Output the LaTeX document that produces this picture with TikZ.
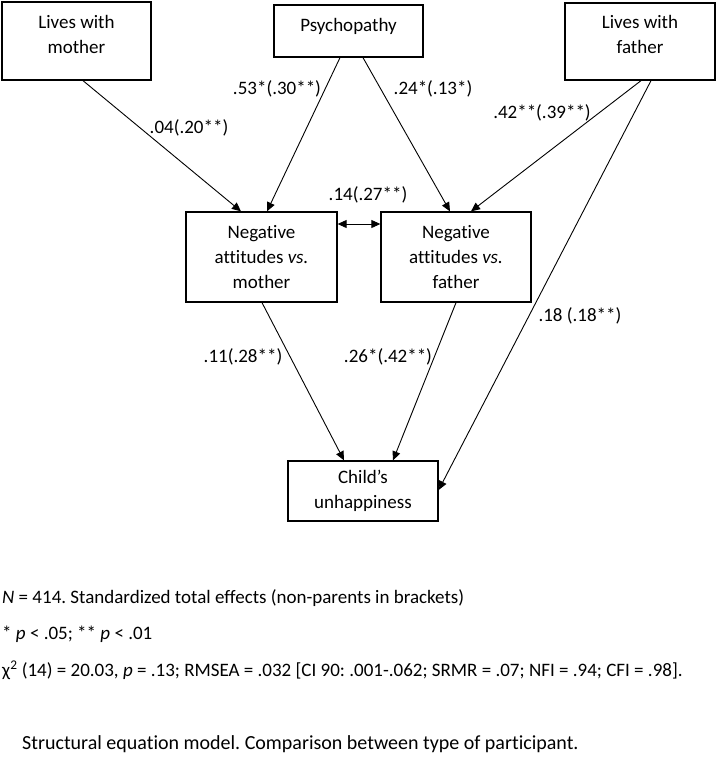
\documentclass[tikz,border=0pt]{standalone}
\usepackage{fontspec}
\setmainfont[Ligatures=NoCommon]{Carlito}
\frenchspacing
\usetikzlibrary{arrows.meta}
\tikzset{
  box/.style={draw, line width=1.3pt, inner sep=0pt},
  txt/.style={align=center, font=\fontsize{19}{25}\selectfont, inner sep=0pt},
  lbl/.style={font=\fontsize{19}{23}\selectfont, inner sep=0pt},
  arr/.style={line width=0.9pt, -{Triangle[length=9pt,width=8pt]}},
  darr/.style={line width=0.9pt, {Triangle[length=9pt,width=8pt]}-{Triangle[length=9pt,width=8pt]}},
  foot/.style={anchor=base west, font=\fontsize{19}{22}\selectfont, inner sep=0pt}
}
\begin{document}
\begin{tikzpicture}[x=1pt,y=-1pt]
\useasboundingbox[fill=white] (0,0) rectangle (717,761);
% boxes
\node[box, minimum width=149pt, minimum height=78pt] (lm) at (76.5,41) {};
\node[txt] (lmt) at (76.5,34.5) {Lives with\\mother};
\node[box, minimum width=149pt, minimum height=52pt] (ps) at (348.5,31) {};
\node[txt] (pst) at (348.5,26) {Psychopathy};
\node[box, minimum width=150pt, minimum height=77pt] (lf) at (640,41.5) {};
\node[txt] (lft) at (640,34.5) {Lives with\\father};
\node[box, minimum width=151pt, minimum height=90pt, txt] (nm) at (261.5,257) {Negative\\attitudes \textit{vs.}\\mother};
\node[box, minimum width=150pt, minimum height=90pt, txt] (nf) at (456,257) {Negative\\attitudes \textit{vs.}\\father};
\node[box, minimum width=150pt, minimum height=60pt, txt] (ch) at (363,491) {Child’s\\unhappiness};
% connectors
\draw[arr] ([xshift=6.5pt]lm.south) -- ([xshift=-20.5pt]nm.north);
\draw[arr] ([xshift=-8.5pt]ps.south) -- ([xshift=5.5pt]nm.north);
\draw[arr] ([xshift=14.5pt]ps.south) -- ([xshift=-6pt]nf.north);
\draw[arr] ([xshift=1pt]lf.south) -- ([xshift=15pt]nf.north);
\draw[arr] ([xshift=11pt]lf.south) -- ([yshift=1pt]ch.east);
\draw[arr] ([xshift=0.5pt]nm.south) -- ([xshift=-19pt]ch.north);
\draw[arr] (nf.south) -- ([xshift=30pt]ch.north);
\draw[darr] ([yshift=33pt]nm.east) -- ([yshift=33pt]nf.west);
% labels
\node[lbl] (l1) at (189,128) {.04(.20**)};
\node[lbl] (l2) at (277,89) {.53*(.30**)};
\node[lbl] (l3) at (433,89) {.24*(.13*)};
\node[lbl] (l4) at (542,113) {.42**(.39**)};
\node[lbl] (l5) at (368,195) {.14(.27**)};
\node[lbl] (l6) at (243,357) {.11(.28**)};
\node[lbl] (l7) at (388,357) {.26*(.42**)};
\node[lbl] (l8) at (580,316) {.18 (.18**)};
% footnotes
\node[foot] (f1) at (2,603) {\textit{N} = 414. Standardized total effects (non-parents in brackets)};
\node[foot] (f2) at (2,639) {* \textit{p} < .05; ** \textit{p} < .01};
\node[foot] (f3) at (2,676) {χ\textsuperscript{2} (14) = 20.03, \textit{p} = .13; RMSEA = .032 [CI 90: .001-.062; SRMR = .07; NFI = .94; CFI = .98].};
\node[foot, font=\fontsize{20}{24}\selectfont] (f4) at (22,749) {Structural equation model. Comparison between type of participant.};
\end{tikzpicture}
\end{document}
